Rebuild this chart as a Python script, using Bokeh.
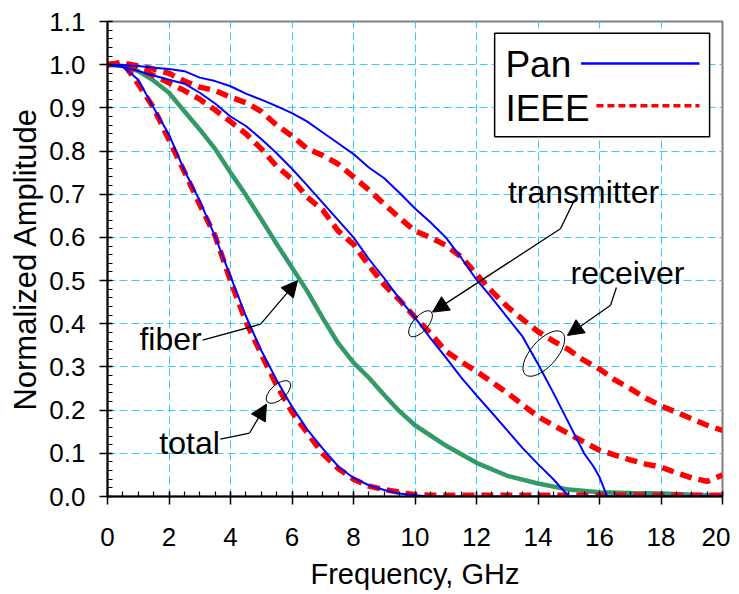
from bokeh.plotting import figure
from bokeh.models import Range1d, FixedTicker, Arrow, NormalHead, NumeralTickFormatter
from bokeh.core.properties import value
from bokeh.embed import file_html
from bokeh.resources import INLINE

FONT = "Liberation Sans"

# ---------------- data ----------------
f_total = [0, 0.5, 1, 1.5, 2, 2.5, 3, 3.5, 4, 4.5, 5, 5.5, 6, 6.5, 7, 7.5, 8, 8.5, 9, 9.5, 10, 10.5, 11, 12, 14, 16, 18, 20]
pan_total = [1.0, 0.995, 0.965, 0.9, 0.838, 0.755, 0.685, 0.602, 0.51, 0.418, 0.338, 0.27, 0.208, 0.155, 0.111, 0.07,
             0.043, 0.026, 0.015, 0.007, 0.003, 0.0, 0.0, 0.0, 0.0, 0.0, 0.0, 0.0]
ieee_total = [1.0, 1.005, 0.955, 0.9, 0.826, 0.752, 0.676, 0.603, 0.5, 0.405, 0.33, 0.258, 0.196, 0.147, 0.099, 0.065,
              0.04, 0.024, 0.016, 0.01, 0.004, 0.003, 0.003, 0.003, 0.003, 0.003, 0.003, 0.003]

f_fiber = [0, 0.5, 1, 1.5, 2, 2.5, 3, 3.5, 4, 4.5, 5, 5.5, 6, 6.5, 7, 7.5, 8, 8.5, 9, 9.5, 10, 11, 12, 13, 14, 15, 16, 17, 18, 19, 20]
fiber = [1.0, 0.997, 0.985, 0.963, 0.935, 0.892, 0.85, 0.805, 0.75, 0.698, 0.642, 0.585, 0.53, 0.475, 0.413, 0.355,
         0.31, 0.275, 0.235, 0.197, 0.165, 0.118, 0.078, 0.048, 0.03, 0.016, 0.01, 0.008, 0.007, 0.004, 0.002]

f_tx = [0, 0.5, 1, 1.5, 2, 2.5, 3, 3.5, 4, 4.5, 5, 5.5, 6, 6.5, 7, 7.5, 8, 8.5, 9, 9.5, 10, 10.5, 11, 11.5, 12, 12.5,
        13, 13.5, 14, 14.5, 15, 16, 18, 20]
pan_tx = [1.0, 0.995, 0.985, 0.975, 0.965, 0.956, 0.935, 0.91, 0.88, 0.858, 0.828, 0.795, 0.759, 0.72, 0.68, 0.64,
          0.6, 0.55, 0.505, 0.457, 0.414, 0.367, 0.322, 0.276, 0.234, 0.194, 0.153, 0.112, 0.075, 0.04, 0.0, 0.0, 0.0, 0.0]

f_tx_ieee = [0, 0.5, 1, 1.5, 2, 2.5, 3, 3.5, 4, 4.5, 5, 5.5, 6, 6.5, 7, 7.5, 8, 8.5, 9, 9.5, 10, 10.5, 11, 11.5, 12,
             13, 14, 15, 16, 17, 17.5, 18, 18.5, 19, 19.5, 20]
ieee_tx = [1.0, 1.004, 0.99, 0.975, 0.958, 0.94, 0.92, 0.895, 0.868, 0.84, 0.805, 0.765, 0.735, 0.693, 0.663, 0.615,
           0.584, 0.535, 0.49, 0.455, 0.415, 0.378, 0.337, 0.312, 0.29, 0.24, 0.185, 0.145, 0.107, 0.085, 0.075,
           0.068, 0.055, 0.043, 0.035, 0.05]

f_rx = [0, 0.5, 1, 1.5, 2, 2.5, 3, 3.5, 4, 4.5, 5, 5.5, 6, 6.5, 7, 7.5, 8, 8.5, 9, 9.5, 10, 10.5, 11, 11.5, 12, 12.5,
        13, 13.5, 14, 14.5, 15, 15.5, 15.8, 16, 16.25, 18, 20]
pan_rx = [1.0, 0.999, 0.997, 0.993, 0.99, 0.985, 0.97, 0.962, 0.95, 0.933, 0.919, 0.904, 0.888, 0.868, 0.843, 0.818,
          0.793, 0.762, 0.737, 0.703, 0.667, 0.635, 0.6, 0.553, 0.502, 0.46, 0.415, 0.37, 0.307, 0.24, 0.17, 0.1,
          0.07, 0.045, 0.0, 0.0, 0.0]

f_rx_ieee = [0, 0.5, 1, 1.5, 2, 2.5, 3, 3.5, 4, 4.5, 5, 5.5, 6, 6.5, 7, 7.5, 8, 8.5, 9, 9.5, 10, 10.5, 11, 11.5, 12,
             12.5, 13, 13.5, 14, 14.5, 15, 15.5, 16, 16.5, 17, 17.5, 18, 18.5, 19, 19.5, 20]
ieee_rx = [1.0, 1.004, 0.997, 0.99, 0.98, 0.962, 0.948, 0.94, 0.925, 0.912, 0.892, 0.86, 0.835, 0.805, 0.79, 0.77,
           0.74, 0.71, 0.677, 0.645, 0.615, 0.6, 0.582, 0.555, 0.515, 0.475, 0.44, 0.41, 0.382, 0.36, 0.34, 0.315,
           0.295, 0.27, 0.25, 0.228, 0.21, 0.195, 0.18, 0.165, 0.153]

x_ticks = [0, 2, 4, 6, 8, 10, 12, 14, 16, 18, 20]
y_ticks = [0.0, 0.1, 0.2, 0.3, 0.4, 0.5, 0.6, 0.7, 0.8, 0.9, 1.0, 1.1]
legend_labels = ["Pan", "IEEE"]

# annotation texts and their places
note_texts = ["transmitter", "receiver", "fiber", "total"]
note_x = [15.48, 16.91, 2.05, 2.67]
note_y = [0.706, 0.517, 0.365, 0.125]

# ---------------- figure ----------------
p = figure(width=730, height=593, output_backend="svg", toolbar_location=None,
           x_range=Range1d(0, 20), y_range=Range1d(0, 1.1),
           min_border_left=107, min_border_right=8, min_border_top=21, min_border_bottom=97)
p.background_fill_color = "white"
p.border_fill_color = "white"
p.outline_line_color = "#808080"
p.outline_line_width = 2

p.xaxis.ticker = FixedTicker(ticks=x_ticks, minor_ticks=[i * 0.5 for i in range(41)])
p.yaxis.ticker = FixedTicker(ticks=y_ticks, minor_ticks=[i * 0.02 for i in range(56)])
p.yaxis.formatter = NumeralTickFormatter(format="0.0")

for ax in (p.xaxis[0], p.yaxis[0]):
    ax.axis_line_color = "black"
    ax.axis_line_width = 2
    ax.major_tick_line_color = "black"
    ax.major_tick_line_width = 1.5
    ax.minor_tick_line_color = "black"
    ax.minor_tick_line_width = 1.2
    ax.major_tick_in = 5
    ax.major_tick_out = 8
    ax.minor_tick_in = 5
    ax.minor_tick_out = 0
    ax.major_label_text_font = FONT
    ax.major_label_text_font_size = "26px"
    ax.major_label_text_color = "black"
    ax.axis_label_text_font = FONT
    ax.axis_label_text_font_style = "normal"
    ax.axis_label_text_color = "black"

p.xaxis.axis_label = "Frequency, GHz"
p.yaxis.axis_label = "Normalized Amplitude"
p.xaxis.axis_label_text_font_size = "29px"
p.yaxis.axis_label_text_font_size = "31px"
p.xaxis.major_label_standoff = 23
p.yaxis.major_label_standoff = 14
p.xaxis.axis_label_standoff = 9
p.yaxis.axis_label_standoff = 3

for g in (p.xgrid[0], p.ygrid[0]):
    g.grid_line_color = "#33CCFF"
    g.grid_line_dash = "8 4"
    g.grid_line_width = 1
p.xgrid.ticker = FixedTicker(ticks=x_ticks)
p.ygrid.ticker = FixedTicker(ticks=y_ticks)

RED = "#FF0000"
BLUE = "#0000FF"
GREEN = "#339966"

# curves
p.line(f_fiber, fiber, line_color=GREEN, line_width=4.5)
p.line(f_total, ieee_total, line_color=RED, line_width=5.5, line_dash="12 7")
p.line(f_tx_ieee, ieee_tx, line_color=RED, line_width=5.5, line_dash="12 7")
p.line(f_rx_ieee, ieee_rx, line_color=RED, line_width=5.5, line_dash="12 7")
p.line(f_total, pan_total, line_color=BLUE, line_width=2)
p.line(f_tx, pan_tx, line_color=BLUE, line_width=2)
p.line(f_rx, pan_rx, line_color=BLUE, line_width=2)

# ellipses marking the curve pairs
p.ellipse(x=[5.56, 10.18, 14.19], y=[0.242, 0.40, 0.331], width=[30, 32, 56], height=[15, 15, 26],
          angle=[0.72, 0.85, 0.85], width_units="screen", height_units="screen",
          fill_color=None, line_color="black", line_width=1)

# leader lines and arrows
leaders_x = [[15.19, 14.73, 10.57], [16.55, 16.36, 14.96], [3.09, 4.98, 6.18], [3.67, 4.62, 5.17]]
leaders_y = [[0.6875, 0.62, 0.427], [0.484, 0.443, 0.373], [0.362, 0.399, 0.50], [0.133, 0.147, 0.214]]
p.multi_line([lx[:2] for lx in leaders_x], [ly[:2] for ly in leaders_y], line_color="black", line_width=1.3)
for lx, ly in zip(leaders_x, leaders_y):
    p.add_layout(Arrow(end=NormalHead(size=16, fill_color="black", line_color="black", line_width=1),
                       x_start=lx[1], y_start=ly[1], x_end=lx[2], y_end=ly[2],
                       line_color="black", line_width=1.3))

p.text(x=note_x, y=note_y, text=note_texts, text_font=value(FONT), text_font_size=value("32px"),
       text_align="center", text_baseline="alphabetic", text_color="black")

# legend box (glyph on the right, as in the original)
p.quad(left=[12.59], right=[19.58], bottom=[0.833], top=[1.073], fill_color="white", line_color="black",
       line_width=1.5)
p.text(x=[12.94, 12.94], y=[0.9995, 0.8975], text=legend_labels, text_font=value(FONT),
       text_font_size=value("37px"), text_align="left", text_baseline="alphabetic", text_color="black")
p.line([15.4, 19.25], [1.003, 1.003], line_color=BLUE, line_width=2.5)
p.line([15.9, 19.25], [0.905, 0.905], line_color=RED, line_width=3.5, line_dash="7 4")

open("out.html", "w").write(file_html(p, INLINE))
